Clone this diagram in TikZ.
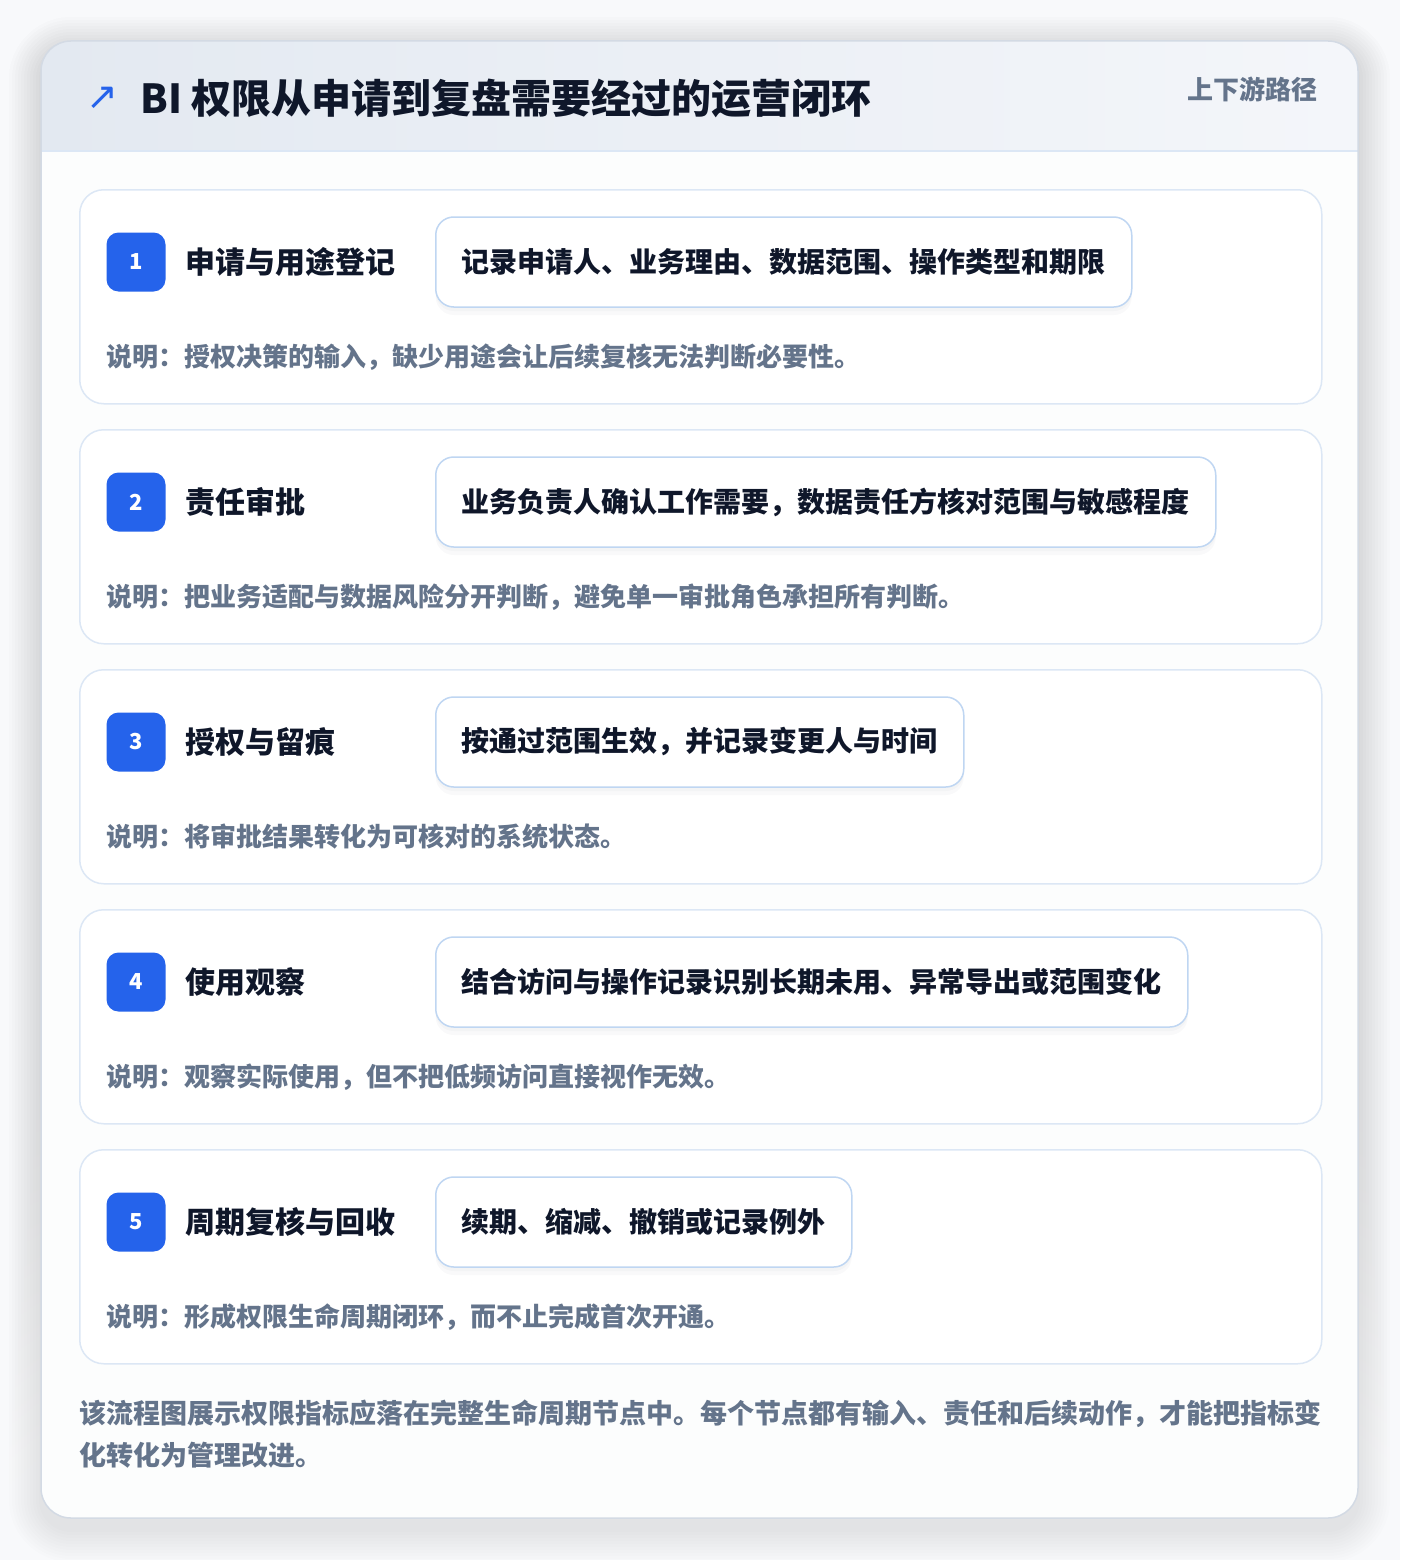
\documentclass[tikz,border=0pt]{standalone}
\usepackage{fontspec}
\setmainfont{Noto Sans CJK SC}
\newfontfamily\symfont{DejaVu Sans}
\usetikzlibrary{positioning}

\definecolor{pagebg}{HTML}{F8F9FB}
\definecolor{cardline}{HTML}{D3DAE4}
\definecolor{hdleft}{HTML}{E3E9F1}
\definecolor{hdright}{HTML}{F4F6FA}
\definecolor{stepline}{HTML}{DCE7F5}
\definecolor{boxline}{HTML}{BFD6F2}
\definecolor{accent}{HTML}{2563EB}
\definecolor{ink}{HTML}{0F172A}
\definecolor{muted}{HTML}{64748B}
\definecolor{shade}{HTML}{1E293B}

\tikzset{
  stepcard/.style={draw=stepline, line width=1.5pt, fill=white, rounded corners=24pt,
    minimum width=1242pt, minimum height=214pt, anchor=north west, inner sep=0pt},
  badge/.style={fill=accent, rounded corners=12pt, minimum size=59pt, inner sep=0pt,
    text=white, font=\bfseries\fontsize{22}{22}\selectfont},
  steptitle/.style={inner sep=0pt, text=ink, font=\bfseries\fontsize{30}{30}\selectfont},
  detailbox/.style={draw=boxline, line width=1.5pt, fill=white, rounded corners=18pt,
    minimum height=90pt, inner xsep=26pt, anchor=west, text=ink,
    font=\bfseries\fontsize{28}{28}\selectfont,
    preaction={draw=none, fill=shade, fill opacity=0.025, transform canvas={yshift=-8pt}},
    preaction={draw=none, fill=shade, fill opacity=0.025, transform canvas={yshift=-4pt}}},
  expltext/.style={anchor=west, inner sep=0pt, text=muted, font=\bfseries\fontsize{26}{26}\selectfont},
}

\begin{document}
\begin{tikzpicture}[x=1pt, y=-1pt]
  \useasboundingbox (0,0) rectangle (1400,1560);
  \fill[pagebg] (0,0) rectangle (1400,1560);

  % soft shadow of the outer card
  \foreach \s in {2,5,...,32}
    \fill[shade, opacity=0.006, rounded corners={30pt+\s pt}]
      ({41-\s},{49-\s}) rectangle ({1358+\s},{1530+\s});

  % outer card and header band
  \begin{scope}
    \clip[rounded corners=30pt] (41,41) rectangle (1358,1518);
    \shade[left color=hdleft, right color=hdright] (41,41) rectangle (1358,151);
    \fill[white!60!pagebg] (41,151) rectangle (1358,1518);
  \end{scope}
  \draw[stepline, line width=1.5pt] (41,151) -- (1358,151);
  \draw[cardline, line width=1.5pt, rounded corners=30pt] (41,41) rectangle (1358,1518);

  \node[text=accent, font=\symfont\fontsize{38}{38}\selectfont] (icon) at (102,98) {↗};
  \node[anchor=west, inner sep=0pt, text=ink, font=\bfseries\fontsize{40}{40}\selectfont] (heading) at (140,98)
    {BI 权限从申请到复盘需要经过的运营闭环};
  \node[anchor=east, inner sep=0pt, text=muted, font=\bfseries\fontsize{26}{26}\selectfont] (route) at (1318,89)
    {上下游路径};

  % steps
  \foreach \i/\name/\detail/\expl in {
    1/申请与用途登记/记录申请人、业务理由、数据范围、操作类型和期限/授权决策的输入，缺少用途会让后续复核无法判断必要性。,
    2/责任审批/业务负责人确认工作需要，数据责任方核对范围与敏感程度/把业务适配与数据风险分开判断，避免单一审批角色承担所有判断。,
    3/授权与留痕/按通过范围生效，并记录变更人与时间/将审批结果转化为可核对的系统状态。,
    4/使用观察/结合访问与操作记录识别长期未用、异常导出或范围变化/观察实际使用，但不把低频访问直接视作无效。,
    5/周期复核与回收/续期、缩减、撤销或记录例外/形成权限生命周期闭环，而不止完成首次开通。}
  {
    \node[stepcard] (card\i) at (79,{189+240*(\i-1)}) {};
    \node[badge] (num\i) at ([xshift=57pt, yshift=-73pt]card\i.north west) {\i};
    \node[steptitle, right=20pt of num\i] (title\i) {\name};
    \node[detailbox] (detail\i) at ([xshift=356pt, yshift=-73pt]card\i.north west) {\detail};
    \node[expltext] (expl\i) at ([xshift=27pt, yshift=-168pt]card\i.north west) {说明：\expl};
  }

  \node[anchor=north west, inner sep=0pt, align=left, text=muted, font=\bfseries\fontsize{27}{42}\selectfont] (summary) at (79,1400)
    {该流程图展示权限指标应落在完整生命周期节点中。每个节点都有输入、责任和后续动作，才能把指标变\\化转化为管理改进。};
\end{tikzpicture}
\end{document}
